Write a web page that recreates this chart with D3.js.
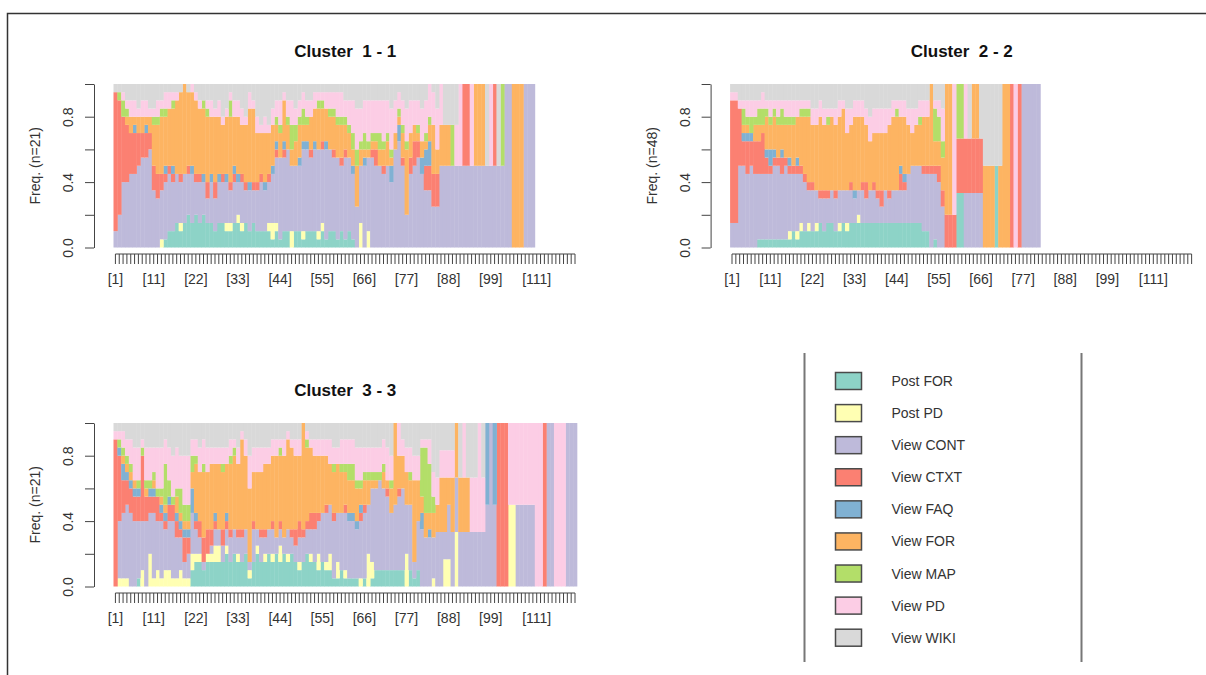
<!DOCTYPE html>
<html>
<head>
<meta charset="utf-8">
<script src="https://cdn.jsdelivr.net/npm/d3@7"></script>
<style>
  body { margin: 0; background: #fff; }
  svg { display: block; font-family: "Liberation Sans", Arial, sans-serif; }
</style>
</head>
<body>
<svg id="chart" width="1206" height="675"></svg>
<script>
// ---------------------------------------------------------------
// Data: state distribution per position (counts, normalised per position)
// column order follows `states`
const states = ["Post FOR", "Post PD", "View CONT", "View CTXT", "View FAQ", "View FOR", "View MAP", "View PD", "View WIKI"];
const stateColors = ["#8DD3C7", "#FFFFB3", "#BEBADA", "#FB8072", "#80B1D3", "#FDB462", "#B3DE69", "#FCCDE5", "#D9D9D9"];
const clusterTitles = ["Cluster 1 - 1", "Cluster 2 - 2", "Cluster 3 - 3"];
const clusterN = [21, 48, 21];
const nPositions = 121;
const xTickLabels = [1, 11, 22, 33, 44, 55, 66, 77, 88, 99, 111];
const yTicks = [0, 0.2, 0.4, 0.6, 0.8, 1];
const yTickLabels = [0, 0.4, 0.8];

const cluster1 = [
  [0,0,2,17,0,0,0,0,1],[0,0,4,14,0,0,1,0,1],[0,0,8,8,0,0,2,1,1],[0,0,8,7,0,1,1,1,2],[0,0,9,5,0,2,0,2,2],
  [0,0,9,5,1,1,0,2,2],[0,0,10,4,0,2,0,1,3],[0,0,11,3,0,2,0,2,2],[0,0,11,3,1,1,0,2,2],[0,0,12,2,0,2,0,1,3],
  [0,0,7,3,0,5,1,1,3],[0,0,6,3,0,6,1,2,2],[0,1,6,2,0,7,1,1,2],[1,0,7,1,1,6,1,2,1],[2,0,7,1,0,7,0,2,1],
  [2,0,6,1,1,7,1,1,1],[3,0,6,0,0,9,0,1,1],[2,1,5,1,0,10,0,0,1],[3,0,6,0,0,11,0,0,0],[4,0,5,1,0,9,0,0,1],
  [3,0,6,0,1,9,0,1,0],[4,0,4,1,0,9,0,1,1],[3,0,5,1,0,8,0,1,2],[4,0,4,0,1,8,1,0,2],[3,0,3,2,0,8,1,1,2],
  [3,0,5,0,1,7,0,2,2],[2,0,4,2,0,8,0,1,3],[3,0,5,0,1,7,0,2,2],[3,0,5,1,0,6,0,1,4],[2,1,5,0,1,7,0,1,3],
  [2,1,4,1,0,8,2,1,1],[3,0,5,1,1,6,0,2,2],[3,1,4,0,1,7,0,2,2],[2,1,5,1,0,6,0,2,3],[3,0,4,1,0,7,0,1,4],
  [2,0,5,0,1,9,0,2,1],[3,0,4,1,0,9,0,1,2],[2,0,5,1,0,6,0,2,4],[2,0,6,1,0,5,0,1,5],[2,0,5,0,1,6,0,2,4],
  [2,1,5,1,0,5,0,1,5],[1,2,6,0,1,5,0,2,3],[2,1,8,1,1,2,1,2,2],[1,0,10,0,0,3,1,3,2],[2,0,9,1,1,5,0,1,1],
  [2,0,10,0,0,3,1,2,2],[0,2,8,0,0,2,3,3,2],[2,0,8,0,0,3,2,2,3],[2,0,8,0,1,4,1,2,2],[1,1,10,0,1,2,2,2,1],
  [2,0,10,0,1,2,1,2,2],[2,0,9,1,0,4,0,2,2],[2,0,10,0,1,4,0,2,1],[1,1,10,0,0,5,1,1,1],[2,1,9,1,0,4,1,1,1],
  [1,0,11,0,1,4,0,2,1],[2,0,10,0,0,4,1,2,1],[2,0,9,1,0,4,1,2,1],[1,0,10,0,0,4,1,3,1],[2,0,8,1,0,4,1,3,1],
  [1,0,10,1,0,3,1,2,2],[2,0,9,0,0,3,1,3,2],[1,0,8,0,1,2,2,4,2],[0,0,5,0,0,5,2,5,3],[0,3,7,0,0,2,1,4,3],
  [0,0,10,0,1,1,2,4,2],[0,2,9,0,0,1,1,5,2],[0,0,11,1,0,1,1,4,2],[0,0,10,2,0,1,1,4,2],[0,0,10,0,0,2,2,4,2],
  [0,0,9,1,0,2,1,5,2],[0,0,10,0,0,3,1,4,2],[0,0,8,0,2,1,1,5,3],[0,0,12,0,0,2,0,4,2],[0,0,13,0,2,1,1,2,1],
  [0,0,10,1,0,3,1,3,2],[0,0,4,0,0,8,1,4,3],[0,0,9,2,0,3,0,4,2],[0,0,10,3,0,2,0,3,2],[0,0,11,2,0,1,1,3,2],
  [0,0,9,0,2,2,0,4,3],[0,0,7,3,2,1,1,4,2],[0,0,7,3,3,2,1,4,0],[0,0,5,4,0,6,0,4,1],[0,0,5,4,0,3,0,5,3],
  [0,0,2,0,0,1,0,1,0],[0,0,2,0,0,1,0,0,1],[0,0,2,0,0,1,0,0,1],[0,0,2,0,0,0,1,0,1],[0,0,2,0,0,0,0,1,1],
  [0,0,1,0,0,0,0,1,0],[0,0,1,1,0,0,0,0,0],[0,0,1,1,0,0,0,0,0],[0,0,1,0,0,0,0,1,0],[0,0,1,0,0,1,0,0,0],
  [0,0,1,0,0,1,0,0,0],[0,0,1,0,0,1,0,0,0],[0,0,1,0,0,0,0,0,1],[0,0,1,0,0,0,0,1,0],[0,0,1,1,0,0,0,0,0],
  [0,0,1,0,0,0,0,0,1],[0,0,1,0,0,0,1,0,0],[0,0,1,0,0,0,0,0,0],[0,0,1,0,0,0,0,0,0],[0,0,0,0,0,1,0,0,0],
  [0,0,0,0,0,1,0,0,0],[0,0,0,0,0,1,0,0,0],[0,0,1,0,0,0,0,0,0],[0,0,1,0,0,0,0,0,0],[0,0,1,0,0,0,0,0,0]
];

const cluster2 = [
  [0,0,3,15,0,0,0,1,1],[0,0,3,15,0,0,0,1,1],[0,0,10,7,0,0,0,1,2],[0,0,10,3,1,1,2,1,2],[0,0,9,4,1,1,1,2,2],
  [0,0,10,3,1,0,2,2,2],[0,0,9,4,0,2,1,2,2],[1,0,8,4,0,2,2,1,2],[1,0,8,5,0,1,2,2,1],[1,0,8,2,1,4,1,1,2],
  [1,0,8,1,2,3,1,2,2],[1,0,9,1,1,4,1,1,2],[1,0,9,1,0,4,1,2,2],[1,0,8,2,1,3,2,1,2],[1,0,9,1,0,4,1,2,2],
  [1,1,7,1,1,4,1,2,2],[2,0,7,1,0,5,1,2,2],[1,1,7,1,1,5,0,2,2],[2,1,6,1,0,6,1,1,2],[2,0,6,1,0,7,1,1,2],
  [2,1,4,1,0,8,1,1,2],[2,0,5,1,0,7,0,2,3],[2,1,4,0,0,8,0,2,3],[3,0,3,1,0,9,0,2,2],[2,0,4,1,0,8,0,2,3],
  [3,0,3,1,0,8,1,1,3],[3,0,4,0,0,9,0,1,3],[2,0,4,1,0,8,0,2,3],[2,1,4,0,0,9,0,2,2],[3,0,4,0,0,10,0,1,2],
  [2,1,4,0,0,7,0,3,3],[3,0,4,1,0,7,0,2,3],[3,0,3,0,1,9,0,2,2],[3,1,3,0,0,9,0,2,2],[3,0,4,1,0,8,0,2,2],
  [3,0,3,2,0,7,0,2,3],[3,0,4,0,0,6,0,3,4],[3,0,4,1,0,6,0,3,3],[3,0,3,1,0,7,0,3,3],[3,0,2,2,0,7,0,3,3],
  [3,0,4,0,0,7,0,3,3],[3,0,3,1,0,8,0,2,3],[3,0,4,0,0,9,0,2,2],[3,0,4,0,0,9,1,1,2],[3,0,4,2,1,6,0,2,2],
  [3,0,4,1,1,7,0,2,2],[3,0,6,0,0,6,0,2,3],[3,0,7,0,0,4,0,3,3],[3,0,7,0,0,5,0,2,3],[3,0,7,0,0,5,1,2,2],
  [2,0,7,1,0,6,0,2,2],[2,0,7,1,0,6,0,2,2],[0,0,9,1,0,10,0,0,0],[1,0,8,1,0,3,4,1,2],[0,0,8,2,0,3,3,2,2],
  [0,0,5,2,0,4,2,4,3],[0,0,0,1,0,4,0,0,0],[0,0,0,1,0,4,0,0,0],[0,0,0,1,0,0,0,4,0],[1,0,0,1,0,0,1,0,0],
  [1,0,0,1,0,0,1,0,0],[0,0,1,1,0,0,0,1,0],[0,0,1,1,0,0,0,0,1],[0,0,1,1,0,1,0,0,0],[0,0,1,1,0,1,0,0,0],
  [0,0,1,1,0,0,0,0,1],[0,0,0,0,0,1,0,0,1],[0,0,0,0,0,1,0,0,1],[0,0,0,0,0,1,0,0,1],[1,0,0,0,0,0,0,0,1],
  [0,0,0,0,0,1,0,0,1],[0,0,0,0,0,1,0,0,0],[0,0,0,0,0,1,0,0,0],[0,0,0,1,0,0,0,0,0],[0,0,0,0,0,0,0,1,0],
  [0,0,0,1,0,0,0,0,0],[0,0,1,0,0,0,0,0,0],[0,0,1,0,0,0,0,0,0],[0,0,1,0,0,0,0,0,0],[0,0,1,0,0,0,0,0,0],
  [0,0,1,0,0,0,0,0,0]
];

const cluster3 = [
  [0,0,0,18,0,0,0,1,1],[0,1,7,8,1,0,1,1,1],[0,1,8,4,2,1,1,2,1],[0,1,9,3,1,1,1,2,2],[0,0,9,3,1,1,1,3,2],
  [0,0,8,3,1,1,0,4,3],[1,0,7,3,1,0,1,4,3],[0,2,6,8,0,0,1,1,2],[0,0,8,3,0,1,1,4,3],[0,4,5,2,1,0,1,4,3],
  [0,1,8,2,1,1,1,3,3],[0,2,6,3,0,0,1,5,3],[0,1,7,1,1,1,1,5,3],[0,2,5,1,1,1,5,3,2],[0,2,6,2,1,0,2,4,3],
  [0,1,7,2,0,0,1,5,4],[0,1,5,2,1,2,1,5,3],[0,2,4,1,1,1,3,4,4],[0,1,2,3,1,1,2,6,4],[0,1,3,2,1,1,2,6,4],
  [2,2,5,0,3,2,2,2,2],[3,1,3,1,1,6,1,2,2],[3,1,2,2,0,6,0,3,3],[2,0,1,3,0,8,1,3,2],[3,1,0,3,0,7,0,3,3],
  [3,1,1,2,0,8,0,2,3],[3,2,2,1,1,6,0,2,3],[3,2,2,0,0,8,0,2,3],[3,0,2,2,0,7,1,2,3],[4,1,2,1,1,6,0,2,3],
  [3,0,3,1,0,8,1,2,2],[4,0,3,0,0,9,1,1,2],[3,1,2,1,0,8,0,2,3],[3,0,3,1,0,11,0,1,1],[4,0,3,0,0,9,0,2,2],
  [1,1,1,0,0,9,0,4,4],[3,0,4,1,0,6,0,3,3],[4,1,2,0,0,7,0,3,3],[3,0,3,1,0,7,0,3,3],[3,1,2,1,0,8,0,2,3],
  [4,0,3,0,0,8,0,2,3],[3,1,3,1,0,8,0,2,2],[4,0,2,0,0,10,0,2,2],[3,2,2,1,0,8,1,1,2],[4,0,2,0,0,10,0,2,2],
  [3,1,3,0,0,11,0,1,1],[4,0,2,1,0,10,0,1,2],[3,0,2,2,0,9,0,2,2],[2,1,3,2,0,8,0,2,2],[3,0,3,1,0,13,0,0,0],
  [4,0,3,1,0,9,1,1,1],[3,1,3,2,0,8,0,1,2],[3,0,4,2,0,7,0,2,2],[2,2,4,1,0,7,0,2,2],[3,0,6,0,0,7,0,2,2],
  [2,1,6,1,0,6,0,2,2],[2,2,6,0,0,5,0,3,2],[1,0,7,1,0,5,1,2,3],[1,2,6,0,0,6,0,2,3],[2,0,7,0,0,5,1,3,2],
  [1,1,7,1,0,4,1,3,2],[1,0,7,0,1,4,2,3,2],[1,0,7,0,1,4,2,3,2],[1,0,6,0,1,4,1,4,3],[0,1,7,1,1,2,1,4,3],
  [1,0,8,1,0,3,1,3,3],[0,4,6,0,0,3,1,3,3],[1,2,9,0,0,1,1,3,3],[2,0,10,0,0,1,1,3,3],[2,0,11,0,0,0,1,3,3],
  [2,0,10,0,0,2,1,3,2],[2,0,9,1,0,1,0,4,3],[2,0,7,0,0,3,1,3,4],[2,0,8,0,0,10,0,0,0],[2,0,9,1,0,4,0,4,0],
  [2,0,10,0,0,4,0,2,2],[0,4,6,0,0,4,0,3,3],[2,0,8,0,0,3,1,3,3],[1,0,2,0,0,10,0,3,4],[2,0,6,0,0,5,0,3,4],
  [0,0,7,0,2,2,6,1,2],[0,0,6,0,0,3,8,1,2],[0,0,6,0,1,2,6,3,2],[0,1,5,0,0,3,2,3,6],[0,0,2,0,0,1,0,1,2],
  [0,0,2,0,0,2,0,1,1],[0,1,1,0,0,2,0,1,1],[0,1,2,0,0,1,0,1,1],[0,0,2,0,0,2,0,1,1],[0,1,1,0,0,1,0,0,0],
  [0,0,1,0,0,1,0,0,1],[0,0,1,0,0,1,0,1,0],[0,0,1,0,0,1,0,0,1],[0,0,1,0,0,0,0,1,1],[0,0,1,0,0,0,0,1,1],
  [0,0,1,0,0,0,0,2,0],[0,0,1,0,0,0,0,1,1],[0,0,1,0,1,0,0,0,0],[0,0,1,0,0,0,0,0,0],[0,0,1,0,1,0,0,0,0],
  [0,0,0,1,0,0,0,0,0],[0,0,0,1,0,0,0,0,0],[0,0,0,1,0,0,0,0,0],[0,1,0,0,0,0,0,1,0],[0,1,0,0,0,0,0,1,0],
  [0,0,1,0,0,0,0,1,0],[0,0,1,0,0,0,0,1,0],[0,0,1,0,0,0,0,1,0],[0,0,1,0,0,0,0,1,0],[0,0,1,0,0,0,0,1,0],
  [0,0,0,0,0,0,0,1,0],[0,0,0,0,0,0,0,1,0],[0,0,0,1,0,0,0,0,0],[0,0,1,0,0,0,0,0,0],[0,0,1,0,0,0,0,0,0],
  [0,0,0,0,0,0,0,1,0],[0,0,0,0,0,0,0,1,0],[0,0,0,0,0,0,0,1,0],[0,0,1,0,0,0,0,0,0],[0,0,1,0,0,0,0,0,0],
  [0,0,1,0,0,0,0,0,0]
];

// ---------------------------------------------------------------
// Layout
const svg = d3.select("#chart");
const bar_w = 3.83;
const plot_h = 163.5;
const text_color = "#333";
const axis_color = "#444";

const panels = [
  {left: 113.5, bottom: 247.5, counts: cluster1},
  {left: 730.1, bottom: 247.5, counts: cluster2},
  {left: 113.5, bottom: 586.5, counts: cluster3},
];

// frame around the figure (only top and left edges are visible)
svg.append("path")
  .attr("d", "M7.5,680V13.5H1210")
  .attr("fill", "none")
  .attr("stroke", "#333")
  .attr("stroke-width", 1.5);

const color = d3.scaleOrdinal().domain(states).range(stateColors);

panels.forEach((p, i) => {
  const g = svg.append("g");

  const x = d3.scaleBand()
    .domain(d3.range(1, nPositions + 1))
    .range([p.left, p.left + nPositions * bar_w])
    .padding(0);

  const y = d3.scaleLinear()
    .domain([0, 1])
    .range([p.bottom, p.bottom - plot_h]);

  // rows -> proportions per position
  const rows = p.counts.map((r, j) => {
    const tot = d3.sum(r);
    const o = {pos: j + 1};
    states.forEach((s, k) => o[s] = r[k] / tot);
    return o;
  });

  const series = d3.stack().keys(states)(rows);

  g.append("g")
    .selectAll("g")
    .data(series)
    .join("g")
      .attr("fill", d => color(d.key))
    .selectAll("rect")
    .data(d => d.filter(v => v[1] - v[0] > 0))
    .join("rect")
      .attr("x", d => x(d.data.pos))
      .attr("width", bar_w + 0.4)
      .attr("y", d => y(d[1]))
      .attr("height", d => y(d[0]) - y(d[1]));

  // y axis
  const axis_x = p.left - 19.5;
  const gy = g.append("g")
    .attr("transform", `translate(${axis_x},0)`)
    .call(d3.axisLeft(y)
      .tickValues(yTicks)
      .tickSize(9)
      .tickSizeOuter(0)
      .tickFormat(d => yTickLabels.includes(d) ? d3.format(".1f")(d) : ""));
  gy.select(".domain").attr("stroke", axis_color);
  gy.selectAll(".tick line").attr("stroke", axis_color);
  gy.selectAll(".tick text")
    .attr("transform", "rotate(-90)")
    .attr("text-anchor", "middle")
    .attr("x", 0)
    .attr("y", -21)
    .attr("dy", 0)
    .attr("fill", text_color)
    .style("font-size", "14px")
    .style("font-family", "'Liberation Sans', Arial, sans-serif");

  // y label
  g.append("text")
    .attr("transform", `translate(${axis_x - 54},${p.bottom - plot_h / 2}) rotate(-90)`)
    .attr("text-anchor", "middle")
    .attr("fill", text_color)
    .style("font-size", "14px")
    .text(`Freq. (n=${clusterN[i]})`);

  // x axis: a tick at every position, labels where R kept them
  const axis_y = p.bottom + 6.5;
  const gx = g.append("g")
    .attr("transform", `translate(0,${axis_y})`)
    .call(d3.axisBottom(x)
      .tickSize(10)
      .tickSizeOuter(0)
      .tickFormat(d => xTickLabels.includes(d) ? `[${d}]` : ""));
  gx.select(".domain").remove();
  gx.append("line")
    .attr("x1", x(1) + bar_w / 2)
    .attr("x2", x(nPositions) + bar_w / 2)
    .attr("stroke", axis_color);
  gx.selectAll(".tick line").attr("stroke", axis_color);
  gx.selectAll(".tick text")
    .attr("y", 20)
    .attr("fill", text_color)
    .style("font-size", "14px")
    .style("font-family", "'Liberation Sans', Arial, sans-serif");

  // title
  g.append("text")
    .attr("x", p.left + nPositions * bar_w / 2)
    .attr("y", p.bottom - 190.5)
    .attr("text-anchor", "middle")
    .attr("fill", "#111")
    .style("font-size", "17px")
    .style("font-weight", "bold")
    .text(clusterTitles[i].replace("Cluster ", "Cluster  "))
    .attr("xml:space", "preserve");
});

// ---------------------------------------------------------------
// Legend panel
const legend = svg.append("g");
[804.5, 1081.5].forEach(lx => {
  legend.append("line")
    .attr("x1", lx).attr("x2", lx)
    .attr("y1", 353).attr("y2", 662)
    .attr("stroke", "#777")
    .attr("stroke-width", 2);
});

const legend_row = d3.scaleLinear().domain([0, states.length - 1]).range([381, 637.7]);

const items = legend.selectAll("g.item")
  .data(states)
  .join("g")
    .attr("class", "item")
    .attr("transform", (d, i) => `translate(0,${legend_row(i)})`);

items.append("rect")
  .attr("x", 835.5)
  .attr("y", -8.5)
  .attr("width", 26)
  .attr("height", 17)
  .attr("fill", d => color(d))
  .attr("stroke", "#4a4a4a")
  .attr("stroke-width", 1.5);

items.append("text")
  .attr("x", 891.5)
  .attr("dy", "0.36em")
  .attr("fill", text_color)
  .style("font-size", "14px")
  .text(d => d);
</script>
</body>
</html>
